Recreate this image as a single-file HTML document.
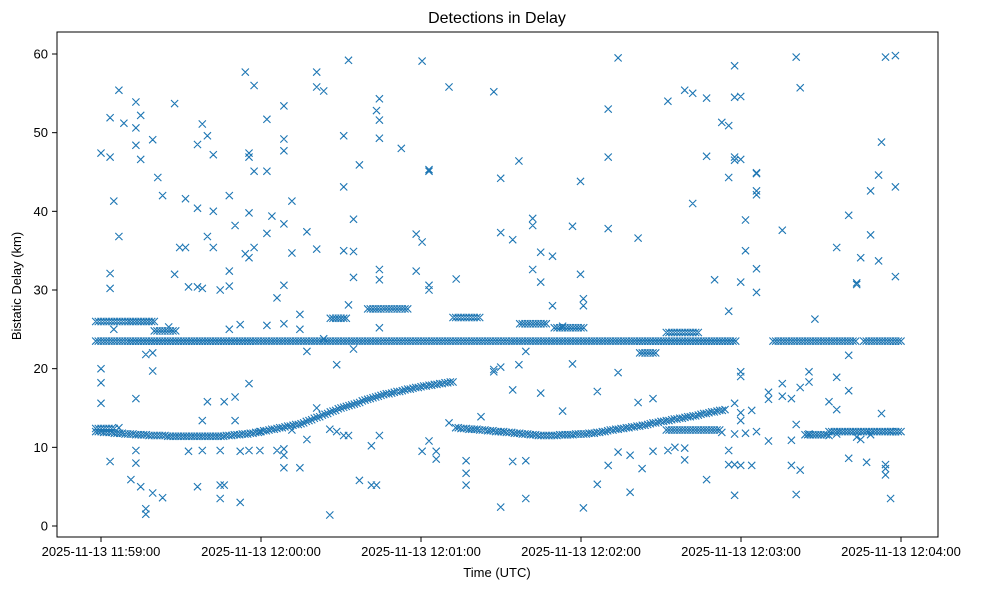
<!DOCTYPE html>
<html><head><meta charset="utf-8"><style>
html,body{margin:0;padding:0;background:#fff;}
svg{display:block;font-family:"Liberation Sans","DejaVu Sans",sans-serif;}
</style></head><body>
<svg id="chart" width="985" height="590" viewBox="0 0 985 590">
<rect x="0" y="0" width="985" height="590" fill="#fff"/>
<text x="497" y="23" text-anchor="middle" font-size="16" fill="#000">Detections in Delay</text>
<g id="marks"></g>
<rect x="57" y="32" width="881" height="505" fill="none" stroke="#000" stroke-width="1"/>
<g id="xaxis"></g>
<g id="yaxis"></g>
<text x="497" y="577" text-anchor="middle" font-size="13">Time (UTC)</text>
<text x="0" y="0" transform="translate(21,286) rotate(-90)" text-anchor="middle" font-size="13">Bistatic Delay (km)</text>
</svg>
<script>
// time in seconds after 2025-11-13 11:59:00 UTC
const xTickSeconds = [0, 60, 120, 180, 240, 300];
const xTickLabels = ["2025-11-13 11:59:00","2025-11-13 12:00:00","2025-11-13 12:01:00","2025-11-13 12:02:00","2025-11-13 12:03:00","2025-11-13 12:04:00"];
const yTicks = [0, 10, 20, 30, 40, 50, 60];

// dense track 1 (one detection per second starting at curveAStart)
const curveAStart = -2;
const curveA = [12.0,12.0,12.0,11.9,11.9,11.9,11.9,11.8,11.8,11.8,11.8,11.7,11.7,
11.7,11.7,11.6,11.6,11.6,11.6,11.6,11.5,11.5,11.5,
11.5,11.5,11.5,11.5,11.4,11.4,11.4,11.4,11.4,11.4,
11.4,11.4,11.4,11.4,11.4,11.4,11.4,11.4,11.4,11.4,11.4,11.4,11.4,11.4,11.4,
11.4,11.5,11.5,11.5,11.6,11.6,11.6,11.7,11.7,11.7,11.8,11.8,11.9,11.9,12.0,
12.1,12.1,12.2,12.3,12.3,12.4,12.5,12.5,12.6,12.7,12.7,12.8,12.9,12.9,13.0,
13.1,13.3,13.4,13.5,13.7,13.8,13.9,14.1,14.2,14.3,14.5,14.6,14.7,14.9,15.0,
15.1,15.2,15.3,15.4,15.5,15.6,15.7,15.9,16.0,16.1,16.2,16.3,16.4,16.5,16.6,
16.7,16.8,16.8,16.9,17.0,17.1,17.1,17.2,17.3,17.4,17.4,17.5,17.6,17.6,17.7,
17.8,17.8,17.9,17.9,18.0,18.0,18.1,18.1,18.2,18.2,18.3,18.3];
// dense track 2
const curveBStart = 133;
const curveB = [12.5,12.5,12.4,12.4,12.4,12.3,12.3,12.3,12.3,12.2,12.2,12.2,12.1,12.1,12.1,12.0,12.0,12.0,
12.0,11.9,11.9,11.9,11.8,11.8,11.8,11.7,11.7,11.7,11.6,11.6,11.6,11.5,11.5,
11.5,11.5,11.5,11.5,11.5,11.5,11.6,11.6,11.6,11.6,11.6,11.6,11.7,11.7,11.7,11.7,11.7,11.8,11.8,11.8,11.9,11.9,
12.0,12.0,12.1,12.2,12.2,12.3,12.3,12.4,12.4,12.5,12.5,12.6,12.6,12.7,12.7,12.8,12.8,12.9,13.0,
13.1,13.1,13.2,13.3,13.3,13.4,13.4,13.5,13.6,13.6,13.7,13.7,13.8,13.9,13.9,14.0,14.0,14.1,
14.2,14.3,14.3,14.4,14.5,14.5,14.6,14.7,14.7,14.8];

// constant-delay runs: start second, end second, delay
const runStart = [-2, 252, 286, -2, 20, 86, 132, 100, 157, 170, 202, 212, 212, 273, 264, -2];
const runEnd   = [238, 283, 300, 20, 28, 92, 142, 115, 167, 181, 208, 224, 232, 300, 272, 5];
const runDelay = [23.5, 23.5, 23.5, 26.0, 24.8, 26.4, 26.5, 27.6, 25.7, 25.2, 22.0, 24.6, 12.2, 12.0, 11.6, 12.4];

// sparse detections
const scatterTime = [0,0,0,0, 3.4,3.4,3.4,3.4,3.4, 4.8,4.8, 6.7,6.7,6.7, 8.6, 11.2, 13.1,13.1,13.1,13.1,13.1,13.1,
14.9,14.9,14.9, 16.8,16.8,16.8, 19.4,19.4,19.4,19.4, 21.3, 23.1,23.1, 25.4, 27.6,27.6, 29.5, 31.7,31.7, 32.8,32.8,
36.2,36.2,36.2,36.2, 38.0,38.0,38.0,38.0, 39.9,39.9,39.9, 42.1,42.1,42.1, 44.7,44.7,44.7,44.7, 46.2,46.2,
48.1,48.1,48.1,48.1, 50.3,50.3,50.3, 52.2,52.2,52.2, 54.1,54.1, 55.5,55.5,55.5,55.5,55.5,55.5, 57.4,57.4,57.4,
59.6,59.6, 62.2,62.2,62.2,62.2, 64.1, 66.0,66.0, 68.6,68.6,68.6,68.6,68.6,68.6,68.6,68.6,68.6, 71.6,71.6,71.6,
74.6,74.6,74.6, 77.2,77.2,77.2, 80.9,80.9,80.9,80.9, 83.5,83.5, 85.8,85.8, 88.4,88.4, 91.0,91.0,91.0,91.0,
92.8,92.8,92.8, 94.7,94.7,94.7,94.7, 96.9,96.9, 101.4,101.4, 103.3,103.3, 104.4,104.4,104.4,104.4,104.4,104.4,104.4,
112.6, 118.2,118.2, 120.4,120.4,120.4, 123.0,123.0,123.0,123.0,123.0, 125.7,125.7, 130.5,130.5, 133.2,
136.9,136.9,136.9, 142.5, 147.3,147.3,147.3, 149.9,149.9,149.9,149.9, 154.4,154.4,154.4, 156.7,156.7,
159.3,159.3,159.3, 161.9,161.9,161.9, 164.9,164.9,164.9, 169.3,169.3, 173.1,173.1, 176.8,176.8, 179.8,179.8,
180.9,180.9,180.9, 186.1,186.1, 190.2,190.2,190.2,190.2, 193.9,193.9,193.9, 198.4,198.4, 201.4,201.4, 202.9,
207.0,207.0, 212.6,212.6, 215.2, 218.9,218.9,218.9, 221.9,221.9, 227.1,227.1,227.1, 230.1, 232.8,232.8,
235.4,235.4,235.4,235.4,235.4, 237.6,237.6,237.6,237.6,237.6,237.6,237.6,237.6,
239.9,239.9,239.9,239.9,239.9,239.9,239.9,239.9, 241.7,241.7,241.7, 244.0,244.0,
245.8,245.8,245.8,245.8,245.8,245.8,245.8, 250.3,250.3,250.3, 255.5,255.5,255.5, 258.9,258.9,258.9,
260.7,260.7,260.7, 262.2,262.2,262.2, 265.5,265.5,265.5, 267.7, 273.0,273.0, 275.9,275.9,275.9,275.9,
280.4,280.4,280.4,280.4, 283.4,283.4,283.4, 284.9,284.9, 287.1, 288.6,288.6,288.6, 291.6,291.6, 292.7,292.7,
294.2,294.2,294.2,294.2, 296.1,296.1, 297.9,297.9,297.9];
const scatterDelay = [47.4,18.2,15.6,20.0, 30.2,32.1,8.2,46.9,51.9, 41.3,25.0, 36.8,55.4,12.5, 51.2, 5.9, 53.9,50.6,48.4,8.0,9.6,16.2,
46.6,5.0,52.2, 21.8,2.2,1.5, 4.2,19.7,22.0,49.1, 44.3, 42.0,3.6, 25.3, 32.0,53.7, 35.4, 35.4,41.6, 30.4,9.5,
30.4,5.0,48.5,40.4, 51.1,30.2,13.4,9.6, 49.6,36.8,15.8, 40.0,47.2,35.4, 30.0,9.6,3.5,5.2, 5.2,15.8,
42.0,32.4,30.5,25.0, 38.2,16.4,13.4, 25.6,3.0,9.5, 57.7,34.6, 47.4,46.9,39.8,34.1,18.1,9.6, 56.0,35.4,45.1,
12.0,9.6, 51.7,37.2,25.5,45.1, 39.4, 29.0,9.6, 30.6,7.4,49.2,53.4,47.7,38.4,25.7,9.0,9.8, 41.3,34.7,12.2,
7.4,25.0,26.9, 37.4,22.2,11.0, 57.7,55.8,35.2,15.0, 55.3,23.8, 1.4,12.3, 20.5,12.0, 49.6,35.0,43.1,11.5,
59.2,28.1,11.5, 39.0,34.9,31.6,22.5, 45.9,5.8, 10.2,5.2, 52.8,5.2, 54.3,51.6,49.3,32.6,31.3,25.2,11.5,
48.0, 37.1,32.4, 59.1,36.1,9.5, 45.3,45.1,30.6,30.0,10.8, 9.5,8.5, 55.8,13.1, 31.4,
6.7,5.2,8.3, 13.9, 55.2,19.6,19.9, 44.2,37.3,20.2,2.4, 36.4,8.2,17.3, 46.4,20.5,
8.3,3.5,22.2, 32.6,39.1,38.2, 34.8,31.0,16.9, 28.0,34.3, 14.6,25.4, 38.1,20.6, 43.8,32.0,
28.0,28.9,2.3, 17.1,5.3, 46.9,37.8,53.0,7.7, 59.5,19.5,9.4, 4.3,9.0, 36.6,15.7, 7.3,
16.2,9.5, 54.0,9.6, 10.0, 55.4,8.4,9.9, 41.0,55.0, 47.0,54.4,5.9, 31.3, 51.3,11.9,
50.9,44.3,27.3,9.6,7.8, 58.5,46.9,46.5,54.5,3.9,15.6,11.7,7.8,
46.6,31.0,54.6,19.6,19.0,14.4,13.4,7.7, 38.9,35.0,11.8, 7.7,14.7,
32.7,44.9,29.7,42.6,42.1,44.8,12.0, 10.8,17.0,16.1, 37.6,18.1,16.5, 7.7,16.2,10.9,
59.6,12.9,4.0, 55.7,7.1,17.6, 19.6,18.3,11.7, 26.3, 11.5,15.8, 11.7,14.8,18.9,35.4,
39.5,21.7,17.2,8.6, 30.7,30.9,11.3, 34.1,11.0, 8.1, 37.0,42.6,11.6, 44.6,33.7, 48.8,14.3,
59.6,6.5,7.3,7.8, 3.5,12.0, 59.8,31.7,43.1];

const NS = "http://www.w3.org/2000/svg";
const X0 = 101, PX_PER_SEC = 160 / 60;
const Y0 = 526, PX_PER_KM = 472 / 60;
function xScale(t) { return X0 + t * PX_PER_SEC; }
function yScale(d) { return Y0 - d * PX_PER_KM; }

const marks = document.getElementById('marks');
let pathD = "";
function addMark(t, d) {
  const x = xScale(t), y = yScale(d);
  pathD += "M" + (x - 3.6).toFixed(1) + " " + (y - 3.6).toFixed(1) + "L" + (x + 3.6).toFixed(1) + " " + (y + 3.6).toFixed(1) +
           "M" + (x - 3.6).toFixed(1) + " " + (y + 3.6).toFixed(1) + "L" + (x + 3.6).toFixed(1) + " " + (y - 3.6).toFixed(1);
}
curveA.forEach(function (d, i) { addMark(curveAStart + i, d); });
curveB.forEach(function (d, i) { addMark(curveBStart + i, d); });
runStart.forEach(function (s, k) {
  for (let t = s; t <= runEnd[k]; t += 1) addMark(t, runDelay[k]);
});
scatterTime.forEach(function (t, i) { addMark(t, scatterDelay[i]); });
const p = document.createElementNS(NS, 'path');


p.setAttribute('d', pathD);
p.setAttribute('stroke', '#1f77b4');
p.setAttribute('stroke-width', '1.1');
p.setAttribute('fill', 'none');
marks.appendChild(p);

const xaxis = document.getElementById('xaxis');
xTickSeconds.forEach(function (t, i) {
  const x = xScale(t);
  const l = document.createElementNS(NS, 'line');
  
  
  l.setAttribute('x1', x); l.setAttribute('x2', x);
  l.setAttribute('y1', 537); l.setAttribute('y2', 542);
  l.setAttribute('stroke', '#000');
  xaxis.appendChild(l);
  const tx = document.createElementNS(NS, 'text');
  
  
  tx.setAttribute('x', x); tx.setAttribute('y', 556);
  tx.setAttribute('text-anchor', 'middle');
  tx.setAttribute('font-size', '13');
  tx.textContent = xTickLabels[i];
  xaxis.appendChild(tx);
});
const yaxis = document.getElementById('yaxis');
yTicks.forEach(function (v) {
  const y = yScale(v);
  const l = document.createElementNS(NS, 'line');
  
  
  l.setAttribute('x1', 52); l.setAttribute('x2', 57);
  l.setAttribute('y1', y); l.setAttribute('y2', y);
  l.setAttribute('stroke', '#000');
  yaxis.appendChild(l);
  const tx = document.createElementNS(NS, 'text');
  
  
  tx.setAttribute('x', 48); tx.setAttribute('y', y + 4.5);
  tx.setAttribute('text-anchor', 'end');
  tx.setAttribute('font-size', '13');
  tx.textContent = String(v);
  yaxis.appendChild(tx);
});
</script>
</body></html>
